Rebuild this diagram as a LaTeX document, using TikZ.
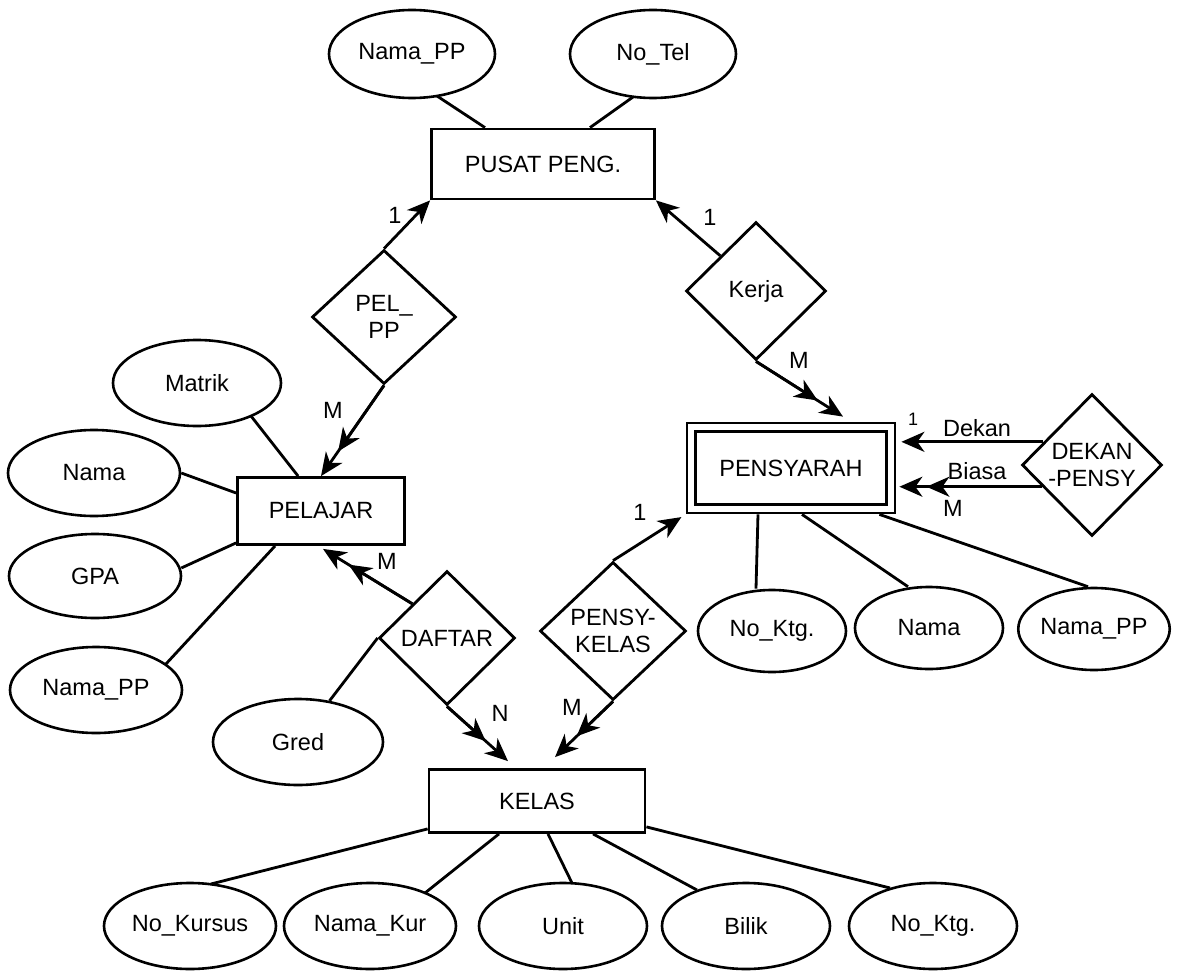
\documentclass[tikz,border=0pt]{standalone}
\usepackage{fontspec}
\setmainfont{Liberation Sans}
\usetikzlibrary{shapes.geometric,arrows.meta,calc}
\begin{document}
\begin{tikzpicture}[x=1pt,y=-1pt,
  every node/.style={font=\fontsize{23.5}{27}\selectfont},
  ent/.style={draw, line width=2.8pt, rectangle, inner sep=0pt},
  attr/.style={draw, line width=2.6pt, ellipse, inner sep=0pt},
  rel/.style={draw, line width=2.8pt, diamond, inner sep=0pt, align=center},
  conn/.style={line width=2.8pt},
  arr/.style={conn, -{Stealth[length=23pt,width=20pt,inset=7pt]}},
  darr/.style={arr, postaction={draw, -{Stealth[length=23pt,width=20pt,inset=7pt]}, shorten >=30pt}},
  lbl/.style={inner sep=0pt}]
\useasboundingbox (0,0) rectangle (1179,971);

% top
\node[attr, minimum width=166pt, minimum height=88pt] (tnama) at (412,54) {Nama\_PP};
\node[attr, minimum width=166pt, minimum height=88pt] (ttel) at (653,54) {No\_Tel};
\node[ent, minimum width=223pt, minimum height=70pt] (pusat) at (543,164) {PUSAT PENG.};
\draw[conn] ($(tnama.center)+(25,42)$) -- ($(pusat.north)+(-58,0)$);
\draw[conn] ($(ttel.center)+(-20,43)$) -- ($(pusat.north)+(47,0)$);

% PEL_PP
\node[rel, minimum width=144pt, minimum height=134pt] (pelpp) at (384,317) {PEL\_\\PP};
\draw[arr] (pelpp.north) -- (pusat.south west);
\node[lbl] (l1a) at (395,215) {1};

% Kerja
\node[rel, minimum width=140pt, minimum height=138pt] (kerja) at (756,291) {Kerja};
\draw[arr] ($(kerja.north)!0.5!(kerja.west)$) -- (pusat.south east);
\node[lbl] (l1b) at (710,217) {1};

% PENSYARAH
\node[ent, minimum width=208pt, minimum height=90pt] (pensy) at (791,468) {PENSYARAH};
\draw[line width=2.8pt] ($(pensy.north west)+(10,10)$) rectangle ($(pensy.south east)+(-10,-10)$);
\draw[darr] (kerja.south) -- ($(pensy.north)+(52,-5)$);
\node[lbl] (lmk) at (799,360) {M};

% DEKAN-PENSY
\node[rel, minimum width=140pt, minimum height=142pt] (dekan) at (1092,465) {DEKAN\\-PENSY};
\coordinate (dk1) at ($(dekan.west)!0.32!(dekan.north)$);
\coordinate (dk2) at ($(dekan.west)!0.3!(dekan.south)$);
\draw[arr, shorten >=5pt] (dk1) -- (dk1 -| pensy.east);
\draw[darr, shorten >=3pt] (dk2) -- (dk2 -| pensy.east);
\node[lbl, font=\fontsize{18}{20}\selectfont] (l1d) at (913,419) {1};
\node[lbl] (ldek) at (977,428) {Dekan};
\node[lbl] (lbia) at (977,471) {Biasa};
\node[lbl] (lmd) at (953,508) {M};

% PENSYARAH attributes
\node[attr, minimum width=148pt, minimum height=82pt] (pktg) at (772,631) {No\_Ktg.};
\node[attr, minimum width=148pt, minimum height=82pt] (pnama) at (929,628) {Nama};
\node[attr, minimum width=148pt, minimum height=82pt] (ppp) at (1094,629) {Nama\_PP};
\draw[conn] ($(pensy.south)+(-33,0)$) -- ($(pktg.north)+(-16,0)$);
\draw[conn] ($(pensy.south)+(11,0)$) -- ($(pnama.north)+(-21,1)$);
\draw[conn] ($(pensy.south east)+(-17,0)$) -- ($(ppp.north)+(-6,0)$);

% PENSY-KELAS
\node[rel, minimum width=146pt, minimum height=138pt] (pk) at (613,631) {PENSY-\\KELAS};
\draw[arr, shorten >=5pt] (pk.north) -- (pensy.south west);
\node[lbl] (l1p) at (640,512) {1};

% PELAJAR
\node[ent, minimum width=167pt, minimum height=67pt] (pelajar) at (321,511) {PELAJAR};
\draw[darr] (pelpp.south) -- (pelajar.north);
\node[lbl] (lmp) at (333,410) {M};

% DAFTAR
\node[rel, minimum width=136pt, minimum height=134pt] (daftar) at (447,638) {DAFTAR};
\draw[darr] ($(daftar.north)!0.5!(daftar.west)$) -- ($(pelajar.south)+(2,3)$);
\node[lbl] (lmd2) at (387,561) {M};

% KELAS
\node[ent, minimum width=216pt, minimum height=63pt] (kelas) at (537,801) {KELAS};
\draw[darr] (daftar.south) -- ($(kelas.north)+(-29,-7)$);
\node[lbl] (ln) at (500,713) {N};
\draw[darr] (pk.south) -- ($(kelas.north)+(18,-11)$);
\node[lbl] (lmk2) at (572,707) {M};

% Gred
\node[attr, minimum width=170pt, minimum height=86pt] (gred) at (298,742) {Gred};
\draw[conn] (gred) -- (daftar.west);

% PELAJAR attributes
\node[attr, minimum width=168pt, minimum height=86pt] (matrik) at (197,383) {Matrik};
\node[attr, minimum width=172pt, minimum height=86pt] (nama) at (94,473) {Nama};
\node[attr, minimum width=172pt, minimum height=84pt] (gpa) at (95,576) {GPA};
\node[attr, minimum width=172pt, minimum height=86pt] (lnpp) at (96,690) {Nama\_PP};
\draw[conn] ($(matrik.center)+(54,33)$) -- ($(pelajar.north west)+(62,0)$);
\draw[conn] (nama.east) -- ($(pelajar.west)+(0,-18)$);
\draw[conn] ($(gpa.east)+(-1,-8)$) -- ($(pelajar.south west)+(0,-3)$);
\draw[conn] ($(lnpp.center)+(69,-25)$) -- ($(pelajar.south west)+(39,0)$);

% KELAS attributes
\node[attr, minimum width=172pt, minimum height=86pt] (kur) at (190,926) {No\_Kursus};
\node[attr, minimum width=172pt, minimum height=86pt] (nkur) at (370,926) {Nama\_Kur};
\node[attr, minimum width=168pt, minimum height=86pt] (unit) at (563,926) {Unit};
\node[attr, minimum width=168pt, minimum height=86pt] (bilik) at (746,926) {Bilik};
\node[attr, minimum width=168pt, minimum height=86pt] (bktg) at (933,926) {No\_Ktg.};
\draw[conn] ($(kelas.south west)+(0,-5)$) -- ($(kur.center)+(21,-42)$);
\draw[conn] ($(kelas.south)+(-38,0)$) -- ($(nkur.center)+(55,-33)$);
\draw[conn] ($(kelas.south)+(11,0)$) -- ($(unit.center)+(9,-43)$);
\draw[conn] ($(kelas.south)+(56,0)$) -- ($(bilik.center)+(-49,-36)$);
\draw[conn] ($(kelas.south east)+(0,-7)$) -- ($(bktg.center)+(-43,-38)$);
\end{tikzpicture}
\end{document}
